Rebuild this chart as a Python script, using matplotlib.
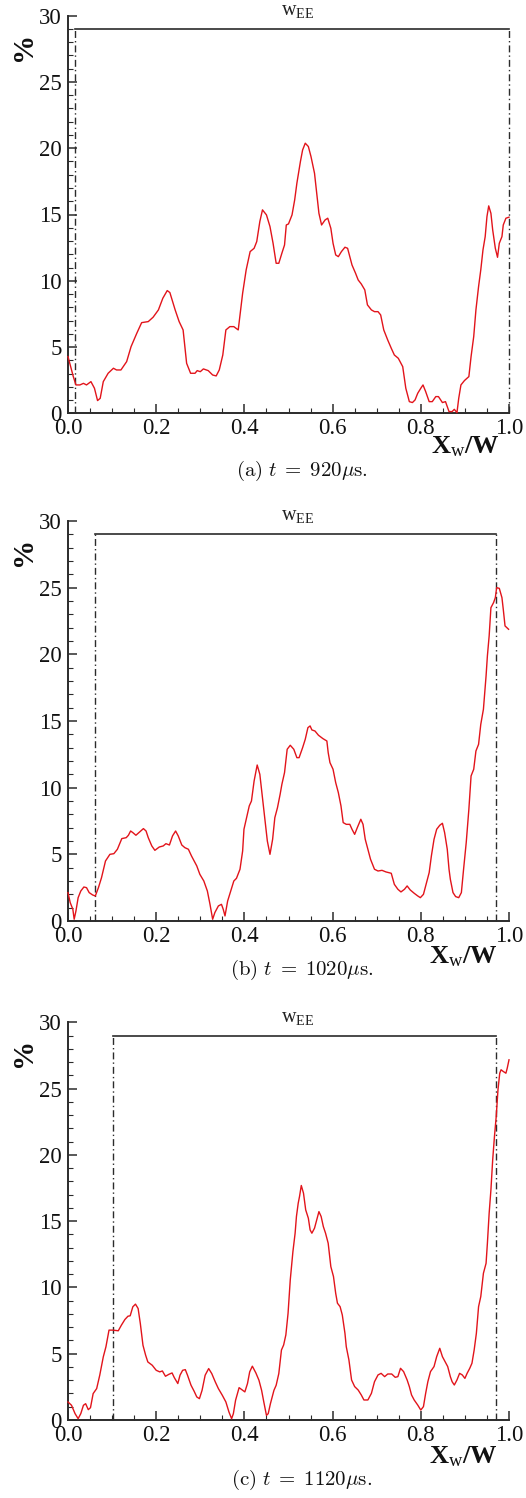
import matplotlib
matplotlib.use("Agg")
import matplotlib.pyplot as plt
from matplotlib.ticker import MultipleLocator, FormatStrFormatter

plt.rcParams['mathtext.fontset'] = 'custom'
plt.rcParams['mathtext.rm'] = 'Liberation Serif'
plt.rcParams['mathtext.it'] = 'Liberation Serif:italic'
plt.rcParams['mathtext.bf'] = 'Liberation Serif:bold'

# ---------------- data ----------------
xa = [0.000, 0.005, 0.012, 0.018, 0.027, 0.035, 0.042, 0.052, 0.060, 0.067, 0.073, 0.080, 0.091, 0.103,
      0.110, 0.120, 0.133, 0.143, 0.156, 0.167, 0.182, 0.193, 0.205, 0.215, 0.225, 0.231, 0.243, 0.252,
      0.261, 0.269, 0.278, 0.288, 0.293, 0.300, 0.307, 0.318, 0.328, 0.336, 0.343, 0.351, 0.358, 0.367,
      0.376, 0.386, 0.396, 0.404, 0.413, 0.422, 0.428, 0.435, 0.441, 0.450, 0.458, 0.465, 0.472, 0.478,
      0.485, 0.491, 0.495, 0.500, 0.508, 0.514, 0.519, 0.527, 0.532, 0.538, 0.545, 0.551, 0.559, 0.564,
      0.569, 0.575, 0.583, 0.589, 0.596, 0.601, 0.607, 0.613, 0.620, 0.628, 0.634, 0.639, 0.644, 0.652,
      0.658, 0.665, 0.673, 0.679, 0.688, 0.695, 0.703, 0.709, 0.716, 0.725, 0.733, 0.740, 0.749, 0.759,
      0.766, 0.774, 0.781, 0.787, 0.793, 0.800, 0.805, 0.811, 0.819, 0.826, 0.834, 0.840, 0.849, 0.856,
      0.864, 0.871, 0.876, 0.882, 0.886, 0.891, 0.899, 0.909, 0.914, 0.920, 0.925, 0.931, 0.936, 0.941,
      0.946, 0.950, 0.954, 0.959, 0.963, 0.969, 0.974, 0.978, 0.984, 0.987, 0.993, 1.000]
ya = [4.28, 3.65, 2.77, 2.14, 2.14, 2.26, 2.14, 2.39, 1.89, 0.96, 1.13, 2.39, 3.02, 3.40,
      3.27, 3.27, 3.90, 5.03, 6.04, 6.84, 6.92, 7.25, 7.80, 8.68, 9.26, 9.11, 7.80, 6.92,
      6.29, 3.77, 3.02, 3.02, 3.22, 3.14, 3.35, 3.22, 2.89, 2.82, 3.27, 4.40, 6.29, 6.54,
      6.54, 6.29, 9.06, 10.82, 12.20, 12.45, 12.96, 14.47, 15.35, 14.97, 14.09, 12.83, 11.32, 11.32,
      12.08, 12.70, 14.21, 14.29, 14.97, 16.10, 17.36, 18.99, 19.87, 20.38, 20.13, 19.37, 18.11, 16.60,
      15.09, 14.21, 14.59, 14.72, 13.96, 12.83, 11.95, 11.82, 12.20, 12.53, 12.45, 11.82, 11.19, 10.57,
      10.06, 9.76, 9.31, 8.18, 7.80, 7.67, 7.67, 7.42, 6.29, 5.53, 4.91, 4.40, 4.15, 3.52,
      1.89, 0.88, 0.81, 1.01, 1.51, 1.89, 2.14, 1.64, 0.88, 0.88, 1.26, 1.26, 0.81, 0.88,
      0.13, 0.13, 0.30, 0.05, 1.13, 2.14, 2.47, 2.77, 4.28, 5.79, 7.80, 9.56, 10.82, 12.33,
      13.33, 14.84, 15.65, 15.09, 13.84, 12.45, 11.77, 12.83, 13.33, 14.21, 14.72, 14.80]

xb = [0.000, 0.005, 0.011, 0.014, 0.018, 0.023, 0.029, 0.036, 0.042, 0.048, 0.056, 0.062, 0.069, 0.076,
      0.085, 0.095, 0.104, 0.112, 0.122, 0.132, 0.137, 0.142, 0.147, 0.154, 0.163, 0.171, 0.177, 0.182,
      0.190, 0.197, 0.207, 0.216, 0.222, 0.230, 0.237, 0.244, 0.250, 0.258, 0.265, 0.273, 0.280, 0.292,
      0.299, 0.308, 0.316, 0.322, 0.328, 0.333, 0.341, 0.348, 0.352, 0.356, 0.362, 0.369, 0.376, 0.382,
      0.390, 0.396, 0.399, 0.405, 0.411, 0.416, 0.422, 0.429, 0.435, 0.441, 0.447, 0.452, 0.458, 0.464,
      0.469, 0.475, 0.481, 0.485, 0.491, 0.497, 0.504, 0.512, 0.519, 0.524, 0.532, 0.538, 0.544, 0.549,
      0.553, 0.560, 0.568, 0.578, 0.587, 0.590, 0.594, 0.601, 0.607, 0.613, 0.619, 0.624, 0.631, 0.639,
      0.644, 0.650, 0.656, 0.664, 0.669, 0.674, 0.680, 0.686, 0.695, 0.703, 0.712, 0.721, 0.733, 0.740,
      0.748, 0.755, 0.763, 0.769, 0.776, 0.785, 0.793, 0.799, 0.806, 0.813, 0.819, 0.824, 0.830, 0.836,
      0.843, 0.849, 0.854, 0.860, 0.864, 0.867, 0.873, 0.879, 0.886, 0.892, 0.897, 0.903, 0.909, 0.914,
      0.920, 0.925, 0.931, 0.936, 0.942, 0.948, 0.951, 0.955, 0.959, 0.965, 0.969, 0.972, 0.978, 0.984,
      0.987, 0.991, 0.999]
yb = [2.13, 1.38, 0.88, 0.13, 0.75, 1.75, 2.25, 2.55, 2.50, 2.13, 1.95, 1.88, 2.50, 3.25,
      4.50, 5.00, 5.05, 5.38, 6.18, 6.25, 6.43, 6.75, 6.63, 6.43, 6.70, 6.93, 6.75, 6.25,
      5.63, 5.30, 5.55, 5.63, 5.80, 5.70, 6.38, 6.75, 6.38, 5.70, 5.50, 5.38, 4.88, 4.13,
      3.50, 3.00, 2.25, 1.25, 0.13, 0.63, 1.13, 1.25, 0.88, 0.38, 1.50, 2.25, 3.00, 3.20,
      3.88, 5.25, 6.88, 7.75, 8.63, 9.00, 10.50, 11.70, 11.00, 9.25, 7.50, 6.00, 5.00, 6.13,
      7.75, 8.50, 9.50, 10.25, 11.13, 12.88, 13.18, 12.88, 12.25, 12.25, 13.00, 13.63, 14.50, 14.63,
      14.33, 14.25, 13.93, 13.68, 13.50, 12.63, 11.88, 11.38, 10.38, 9.63, 8.63, 7.38, 7.25, 7.25,
      6.88, 6.50, 7.00, 7.63, 7.25, 6.13, 5.38, 4.63, 3.88, 3.75, 3.80, 3.68, 3.58, 2.75,
      2.38, 2.18, 2.38, 2.63, 2.33, 2.08, 1.88, 1.75, 2.00, 2.88, 3.63, 4.88, 6.13, 6.88,
      7.18, 7.33, 6.63, 5.38, 3.88, 3.13, 2.13, 1.83, 1.75, 2.13, 3.88, 5.88, 8.38, 10.88,
      11.38, 12.75, 13.25, 14.75, 15.88, 18.38, 19.88, 21.38, 23.50, 23.88, 24.25, 25.00, 24.95, 24.25,
      23.38, 22.13, 21.88]

xc = [0.000, 0.008, 0.016, 0.023, 0.029, 0.035, 0.040, 0.046, 0.051, 0.057, 0.065, 0.072, 0.080, 0.086,
      0.093, 0.102, 0.114, 0.121, 0.129, 0.136, 0.141, 0.147, 0.153, 0.159, 0.164, 0.170, 0.176, 0.181,
      0.191, 0.200, 0.208, 0.214, 0.221, 0.229, 0.236, 0.241, 0.249, 0.254, 0.260, 0.266, 0.271, 0.279,
      0.286, 0.292, 0.298, 0.304, 0.311, 0.319, 0.326, 0.334, 0.341, 0.350, 0.358, 0.365, 0.371, 0.375,
      0.380, 0.388, 0.394, 0.401, 0.407, 0.412, 0.418, 0.426, 0.433, 0.439, 0.444, 0.450, 0.454, 0.459,
      0.467, 0.472, 0.478, 0.484, 0.489, 0.494, 0.499, 0.504, 0.510, 0.515, 0.518, 0.522, 0.525, 0.529,
      0.534, 0.539, 0.545, 0.549, 0.553, 0.559, 0.564, 0.569, 0.574, 0.579, 0.584, 0.590, 0.596, 0.602,
      0.607, 0.611, 0.617, 0.622, 0.628, 0.631, 0.637, 0.643, 0.650, 0.658, 0.665, 0.671, 0.680, 0.688,
      0.695, 0.703, 0.710, 0.718, 0.725, 0.734, 0.742, 0.748, 0.754, 0.761, 0.769, 0.774, 0.779, 0.785,
      0.793, 0.800, 0.806, 0.811, 0.816, 0.822, 0.830, 0.836, 0.843, 0.849, 0.855, 0.861, 0.867, 0.871,
      0.876, 0.882, 0.888, 0.894, 0.900, 0.905, 0.911, 0.916, 0.921, 0.926, 0.931, 0.936, 0.942, 0.948,
      0.951, 0.955, 0.959, 0.963, 0.967, 0.971, 0.975, 0.979, 0.982, 0.987, 0.993, 0.996, 1.000]
yc = [1.36, 1.11, 0.48, 0.10, 0.48, 1.11, 1.23, 0.78, 0.93, 1.99, 2.37, 3.38, 4.76, 5.52,
      6.78, 6.78, 6.73, 7.15, 7.58, 7.83, 7.86, 8.54, 8.74, 8.41, 7.28, 5.64, 4.89, 4.38,
      4.13, 3.75, 3.63, 3.70, 3.30, 3.45, 3.55, 3.20, 2.75, 3.38, 3.75, 3.80, 3.38, 2.62,
      2.17, 1.74, 1.61, 2.24, 3.38, 3.88, 3.50, 2.87, 2.37, 1.86, 1.36, 0.60, 0.10, 0.48,
      1.49, 2.44, 2.29, 2.12, 2.75, 3.63, 4.06, 3.55, 3.00, 2.24, 1.36, 0.35, 0.48, 1.23,
      2.24, 2.62, 3.50, 5.28, 5.66, 6.42, 8.05, 10.57, 12.70, 14.09, 15.35, 16.35, 16.86, 17.69,
      17.11, 15.85, 15.22, 14.34, 14.09, 14.47, 15.09, 15.72, 15.35, 14.59, 14.09, 13.33, 11.57, 10.82,
      9.56, 8.81, 8.55, 7.92, 6.54, 5.53, 4.53, 3.02, 2.52, 2.26, 1.89, 1.51, 1.51, 2.01,
      2.89, 3.40, 3.52, 3.27, 3.47, 3.47, 3.22, 3.27, 3.90, 3.65, 3.02, 2.52, 1.89, 1.51,
      1.13, 0.75, 1.01, 2.01, 2.89, 3.65, 4.03, 4.78, 5.41, 4.78, 4.40, 4.03, 3.27, 2.89,
      2.64, 3.02, 3.52, 3.40, 3.14, 3.52, 3.90, 4.28, 5.28, 6.54, 8.55, 9.31, 11.07, 11.82,
      13.33, 15.60, 17.36, 19.62, 21.38, 22.89, 24.91, 26.16, 26.42, 26.29, 26.16, 26.54, 27.17]

series_x = [xa, xb, xc]
series_y = [ya, yb, yc]
ee_start = [0.017, 0.062, 0.103]
ee_end = [1.0, 0.97, 0.97]
ee_level = 29
ee_label = r"$\mathrm{w}_{\mathrm{EE}}$"
captions = [r"$\mathrm{(a)}\ t\;=\;920\mu\mathrm{s.}$",
            r"$\mathrm{(b)}\ t\;=\;1020\mu\mathrm{s.}$",
            r"$\mathrm{(c)}\ t\;=\;1120\mu\mathrm{s.}$"]
yticks = [0, 5, 10, 15, 20, 25, 30]
xticks = [0.0, 0.2, 0.4, 0.6, 0.8, 1.0]

# ---------------- layout ----------------
W, H = 526, 1498
fig = plt.figure(figsize=(W / 100, H / 100), dpi=100)

ax_top = [15.7, 521.0, 1022.3]
ax_bot = [413.3, 921.0, 1420.0]
cap_y = [471, 970, 1480]
xl_base = [453, 963, 1463]
xl_right = [500, 498, 498]

axis_col = '#2b2b2b'
red = '#e2141b'
tfont = 'Liberation Serif'

for i in range(3):
    left = 68 / W
    width = 441 / W
    bottom = 1 - ax_bot[i] / H
    height = (ax_bot[i] - ax_top[i]) / H
    ax = fig.add_axes([left, bottom, width, height])
    ax.plot(series_x[i], series_y[i], color=red, lw=1.0, clip_on=False, zorder=3)

    s, e = ee_start[i], ee_end[i]
    ax.plot([s, s], [0, ee_level], color=axis_col, lw=1.0, ls=(0, (5, 2.2, 1, 2.2)), clip_on=False)
    ax.plot([e, e], [0, ee_level], color=axis_col, lw=1.0, ls=(0, (5, 2.2, 1, 2.2)), clip_on=False)
    ax.plot([s, e], [ee_level, ee_level], color=axis_col, lw=1.2, clip_on=False)
    ax.annotate(ee_label, xy=(0.484, ee_level), xytext=(0, 10), textcoords='offset points',
                ha='left', va='baseline', fontsize=14.5, color='#222222')

    ax.set_xlim(0, 1)
    ax.set_ylim(0, 30)
    for sp in ['top', 'right']:
        ax.spines[sp].set_visible(False)
    for sp in ['left', 'bottom']:
        ax.spines[sp].set_color(axis_col)
        ax.spines[sp].set_linewidth(1.4)
    ax.set_xticks(xticks)
    ax.set_yticks(yticks)
    ax.xaxis.set_major_formatter(FormatStrFormatter('%.1f'))
    ax.yaxis.set_major_formatter(FormatStrFormatter('%d'))
    ax.xaxis.set_minor_locator(MultipleLocator(0.05))
    ax.yaxis.set_minor_locator(MultipleLocator(1))
    ax.tick_params(which='both', direction='in', color=axis_col, top=False, right=False)
    ax.tick_params(which='major', length=6.5, width=1.1, pad=3.3, labelsize=16.5, labelcolor='#111111')
    ax.tick_params(axis='y', which='major', pad=4.5)
    ax.tick_params(which='minor', length=3.6, width=0.8)
    for lab in ax.get_xticklabels() + ax.get_yticklabels():
        lab.set_family(tfont)

    fig.text(24 / W, 1 - (ax_top[i] + 30.5) / H, '%', rotation=90, ha='center', va='center',
             fontsize=21, fontweight='bold', family=tfont, color='#111111')
    fig.text(xl_right[i] / W, 1 - xl_base[i] / H, r'$\mathbf{X}_{\mathrm{w}}\mathbf{/W}$',
             ha='right', va='baseline', fontsize=19, color='#111111')
    fig.text(302 / W, 1 - cap_y[i] / H, captions[i], ha='center', va='center',
             fontsize=15, math_fontfamily='cm', color='#111111')

fig.savefig('out.png', dpi=100)
